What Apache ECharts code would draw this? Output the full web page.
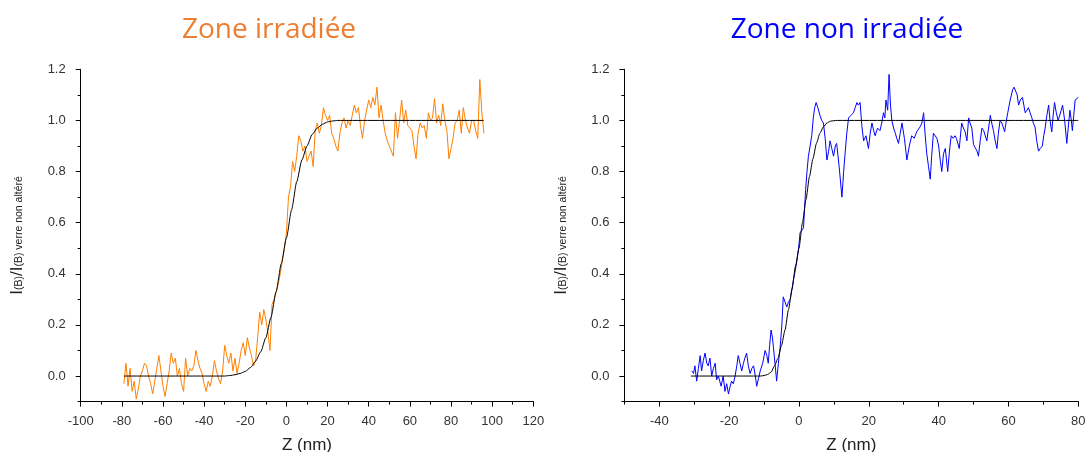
<!DOCTYPE html>
<html>
<head>
<meta charset="utf-8">
<script src="https://cdn.jsdelivr.net/npm/echarts@6/dist/echarts.min.js"></script>
<style>
html,body{margin:0;padding:0;background:#fff;}
#c{width:1085px;height:452px;}
</style>
</head>
<body>
<div id="c"></div>
<script>
// ---------- Data ----------
var leftTitle = 'Zone irradiée';
var rightTitle = 'Zone non irradiée';
var xName = 'Z (nm)';

// Left chart (Zone irradiée) measured profile
var leftZ = [];
for (var z = -79; z <= 96; z++) leftZ.push(z);
var leftI = [
 -0.03, 0.05, -0.04, 0.03, -0.06, -0.02, -0.09, -0.05, 0.00, 0.02,
  0.05, 0.04, 0.00, -0.03, -0.07, -0.02, 0.03, 0.08, 0.02, -0.04,
 -0.08, -0.03, 0.02, 0.09, 0.05, 0.07, 0.00, 0.03, -0.03, -0.06,
  0.07, 0.00, 0.03, 0.02, 0.04, 0.10, 0.06, 0.03, 0.01, -0.03,
 -0.06, -0.02, -0.04, 0.00, 0.06, 0.02, -0.01, -0.03, 0.02, 0.12,
  0.08, 0.05, 0.09, 0.02, 0.07, 0.01, 0.05, 0.10, 0.13, 0.08,
  0.15, 0.11, 0.08, 0.04, 0.06, 0.15, 0.25, 0.20, 0.26, 0.22,
  0.17, 0.10, 0.28, 0.30, 0.33, 0.36, 0.40, 0.45, 0.50, 0.56,
  0.70, 0.74, 0.84, 0.80, 0.86, 0.94, 0.92, 0.88, 0.90, 0.84,
  0.86, 0.88, 0.82, 0.96, 0.99, 0.95, 0.98, 1.05, 1.02, 1.00,
  1.02, 0.95, 0.93, 0.90, 0.88, 0.95, 0.99, 1.01, 0.97, 1.00,
  0.98, 1.02, 1.06, 1.03, 1.05, 0.98, 0.93, 1.00, 1.04, 1.08,
  1.05, 1.09, 1.06, 1.13, 1.01, 1.06, 1.00, 0.95, 0.92, 0.90,
  0.88, 0.86, 1.03, 0.93, 1.00, 1.08, 0.99, 1.04, 0.98, 0.97,
  0.96, 0.90, 0.85, 0.95, 0.99, 0.97, 0.98, 0.93, 1.03, 1.00,
  1.01, 1.085, 0.99, 1.02, 0.98, 1.065, 1.00, 0.96, 0.85, 0.89,
  0.93, 0.99, 1.00, 1.04, 0.95, 1.05, 1.00, 0.97, 0.95, 1.00,
  1.00, 0.96, 0.93, 1.16, 1.03, 0.95
];
// Left chart fitted curve
var leftFitZ = [-79, -30, -27.5, -25, -22.5, -20, -17.5, -15, -12.5, -10, -7.5, -5, -2.5, 0, 2.5, 5, 7.5, 10, 12.5, 15, 17.5, 20, 22.5, 25, 96];
var leftFitI = [0, 0, 0.002, 0.005, 0.01, 0.018, 0.033, 0.058, 0.095, 0.15, 0.23, 0.33, 0.44, 0.54, 0.65, 0.76, 0.845, 0.9, 0.945, 0.97, 0.985, 0.994, 0.998, 1, 1];

// Right chart (Zone non irradiée) measured profile
var rightZ = [
 -30.7, -30.2, -29.8, -29.3, -28.8, -28.3, -27.9, -27.4, -26.9, -26.4,
 -26.0, -25.5, -25.0, -24.5, -24.0, -23.6, -23.1, -22.7, -22.3, -21.7,
 -21.2, -20.7, -20.2, -19.7, -19.3, -18.8, -18.3, -17.8, -17.4, -16.9,
 -16.4, -15.9, -15.5, -15.0, -14.5, -14.0, -13.5, -13.0, -12.5, -12.1,
 -11.6, -11.1, -10.4, -9.7, -9.2, -8.8, -8.4, -8.0, -7.6, -7.3,
 -6.8, -6.4, -5.9, -5.4, -4.9, -4.5, -4.0, -3.5, -3.0, -2.5,
 -2.0, -1.6, -1.1, -0.6, -0.1, 0.3, 0.8, 1.3, 1.9, 2.3,
 2.7, 3.2, 3.65, 4.1, 4.5, 4.9, 5.4, 6.0, 6.5, 7.0,
 7.5, 8.0, 8.5, 8.9, 9.4, 9.9, 10.4, 10.8, 11.5, 12.3,
 12.8, 13.2, 13.7, 14.2, 14.9, 15.6, 16.1, 16.6, 17.0, 17.5,
 18.0, 18.5, 19.2, 19.9, 20.4, 20.9, 21.4, 21.8, 22.5, 23.2,
 23.7, 24.2, 24.6, 24.9, 25.4, 25.8, 26.2, 26.6, 27.1, 27.6,
 28.0, 28.5, 29.0, 29.5, 30.2, 30.9, 31.6, 32.3, 33.0, 33.7,
 34.2, 34.7, 35.2, 35.7, 36.1, 36.6, 37.1, 37.6, 38.0, 38.5,
 39.0, 39.5, 40.0, 40.5, 40.9, 41.4, 41.9, 42.6, 43.1, 43.6,
 44.2, 44.7, 45.1, 45.5, 45.9, 46.6, 47.1, 47.6, 48.1, 48.6,
 49.0, 49.5, 50.0, 50.5, 51.0, 51.4, 51.9, 52.4, 52.9, 53.3,
 53.8, 54.3, 54.8, 55.2, 55.7, 56.2, 56.7, 57.1, 57.6, 58.1,
 58.5, 58.9, 59.4, 59.8, 60.5, 61.2, 61.6, 62.1, 62.5, 62.9,
 63.4, 64.0, 64.4, 64.8, 65.3, 65.7, 66.2, 66.7, 67.1, 67.6,
 68.1, 68.6, 69.1, 69.7, 70.1, 70.5, 71.0, 71.5, 71.9, 72.4,
 72.8, 73.2, 73.7, 74.2, 74.8, 75.5, 76.1, 76.7, 77.1, 77.6,
 78.0, 78.3, 78.7, 79.1, 79.6, 80.0
];
var rightI = [
 0.02, 0.01, 0.04, -0.02, 0.03, 0.08, 0.02, 0.06, 0.09, 0.05,
 0.04, 0.07, 0.00, 0.03, 0.05, -0.015, 0.00, -0.02, -0.04, 0.00,
 -0.06, -0.03, -0.07, -0.04, -0.02, -0.03, 0.00, 0.04, 0.08, 0.05,
 0.02, 0.05, 0.07, 0.09, 0.04, 0.01, 0.03, 0.04, 0.00, -0.04,
 -0.01, 0.02, 0.05, 0.10, 0.08, 0.05, 0.12, 0.18, 0.15, 0.11,
 0.04, -0.02, 0.05, 0.11, 0.20, 0.31, 0.29, 0.27, 0.29, 0.30,
 0.34, 0.375, 0.41, 0.45, 0.50, 0.56, 0.57, 0.58, 0.73, 0.80,
 0.86, 0.90, 0.94, 1.01, 1.05, 1.07, 1.05, 1.02, 1.00, 0.99,
 0.93, 0.845, 0.88, 0.92, 0.89, 0.86, 0.90, 0.91, 0.82, 0.70,
 0.80, 0.87, 0.95, 1.01, 1.02, 1.03, 1.05, 1.07, 1.06, 1.07,
 0.98, 0.92, 0.94, 0.89, 0.95, 0.99, 0.96, 0.94, 0.97, 0.96,
 0.99, 1.03, 1.01, 1.08, 1.04, 1.18, 1.06, 1.00, 0.97, 0.95,
 0.93, 0.91, 0.95, 0.99, 0.93, 0.845, 0.90, 0.94, 0.93, 0.955,
 0.96, 0.975, 0.99, 1.03, 0.95, 0.87, 0.82, 0.77, 0.86, 0.95,
 0.955, 0.93, 0.90, 0.84, 0.80, 0.87, 0.89, 0.80, 0.88, 0.94,
 0.93, 0.94, 0.93, 0.935, 0.89, 0.99, 0.97, 0.955, 0.92, 1.01,
 0.99, 0.97, 0.905, 0.90, 0.88, 0.86, 0.92, 0.97, 0.96, 0.965,
 0.92, 0.97, 1.02, 0.99, 0.96, 0.92, 0.89, 0.95, 1.00, 0.99,
 0.99, 0.956, 1.00, 1.03, 1.08, 1.12, 1.13, 1.13, 1.10, 1.06,
 1.08, 1.09, 1.06, 1.03, 1.04, 1.05, 1.03, 1.01, 0.99, 0.975,
 0.92, 0.88, 0.89, 0.90, 0.94, 0.97, 1.02, 1.06, 1.00, 0.955,
 1.02, 1.07, 1.03, 1.00, 1.025, 1.06, 1.00, 0.91, 0.97, 1.04,
 1.00, 0.96, 1.02, 1.08, 1.085, 1.09
];
// Right chart fitted curve
var rightFitZ = [-31, -11, -10, -9, -8, -7, -6, -5, -4, -3, -2, -1, 0, 1, 2, 3, 4, 5, 6, 7, 8, 9, 10, 11, 80];
var rightFitI = [0, 0, 0.002, 0.006, 0.015, 0.04, 0.07, 0.12, 0.18, 0.26, 0.34, 0.43, 0.5, 0.6, 0.69, 0.78, 0.85, 0.91, 0.95, 0.975, 0.99, 0.997, 0.999, 1, 1];

// Tick labels
var yTickLabels = [0.0, 0.2, 0.4, 0.6, 0.8, 1.0, 1.2];
var yMinorTicks = [-0.1, 0.1, 0.3, 0.5, 0.7, 0.9, 1.1];
var rightXTickLabels = [-40, -20, 0, 20, 40, 60, 80];
var rightXMinorTicks = [-50, -30, -10, 10, 30, 50, 70];

// ---------- Chart ----------
function pairs(xs, ys) { return xs.map(function (x, i) { return [x, ys[i]]; }); }

var labelFont = 'Liberation Sans';
var axisCol = '#000';
var labelStyle = { color: '#333', fontFamily: labelFont, fontSize: 13 };

function yName() {
  return {
    name: '{b|I}{s|(B)}{b|/I}{s|(B) verre non altéré}',
    nameLocation: 'middle',
    nameGap: 56,
    nameRotate: 90,
    nameTextStyle: {
      rich: {
        b: { fontSize: 17, fontFamily: labelFont, color: '#222', lineHeight: 16, verticalAlign: 'top' },
        s: { fontSize: 10.5, fontFamily: labelFont, color: '#222', lineHeight: 10, padding: [9, 0, 0, 0], verticalAlign: 'bottom' }
      }
    }
  };
}

function mainY(grid) {
  var o = yName();
  return Object.assign(o, {
    type: 'value', gridIndex: grid, min: -0.1, max: 1.2, position: 'left',
    splitLine: { show: false },
    axisLine: { show: true, onZero: false, lineStyle: { color: axisCol, width: 1 } },
    axisTick: { show: true, length: 5, customValues: yTickLabels, lineStyle: { color: axisCol } },
    axisLabel: Object.assign({ customValues: yTickLabels, margin: 15, formatter: function (v) { return Number(v).toFixed(1); } }, labelStyle)
  });
}
function minorY(grid) {
  return {
    type: 'value', gridIndex: grid, min: -0.1, max: 1.2, position: 'left', offset: 0,
    splitLine: { show: false },
    axisLine: { show: false, onZero: false },
    axisTick: { show: true, length: 3, customValues: yMinorTicks, lineStyle: { color: axisCol } },
    axisLabel: { show: false }
  };
}

var option = {
  animation: false,
  backgroundColor: '#fff',
  title: [
    { text: leftTitle, left: 264, top: 11, textAlign: 'center',
      textStyle: { color: '#ED7D31', fontSize: 28, fontFamily: 'Open Sans', fontWeight: 'normal' } },
    { text: rightTitle, left: 842, top: 11, textAlign: 'center',
      textStyle: { color: '#0000FF', fontSize: 28, fontFamily: 'Open Sans', fontWeight: 'normal' } }
  ],
  grid: [
    { left: 80.7, top: 69.3, width: 452.6, height: 332.3, outerBoundsMode: 'none', containLabel: false },
    { left: 624.4, top: 69.3, width: 453.9, height: 332.3, outerBoundsMode: 'none', containLabel: false }
  ],
  xAxis: [
    { type: 'value', gridIndex: 0, min: -100, max: 120, interval: 20, position: 'bottom',
      name: xName, nameLocation: 'middle', nameGap: 35,
      nameTextStyle: { fontFamily: labelFont, fontSize: 17, color: '#222' },
      splitLine: { show: false },
      axisLine: { onZero: false, lineStyle: { color: axisCol, width: 1 } },
      axisTick: { length: 5, lineStyle: { color: axisCol } },
      minorTick: { show: true, splitNumber: 2, length: 3, lineStyle: { color: axisCol } },
      axisLabel: Object.assign({ margin: 13 }, labelStyle) },
    { type: 'value', gridIndex: 1, min: -50, max: 80, position: 'bottom',
      name: xName, nameLocation: 'middle', nameGap: 35,
      nameTextStyle: { fontFamily: labelFont, fontSize: 17, color: '#222' },
      splitLine: { show: false },
      axisLine: { onZero: false, lineStyle: { color: axisCol, width: 1 } },
      axisTick: { length: 5, customValues: rightXTickLabels, lineStyle: { color: axisCol } },
      axisLabel: Object.assign({ margin: 13, customValues: rightXTickLabels }, labelStyle) },
    { type: 'value', gridIndex: 1, min: -50, max: 80, position: 'bottom', offset: 0,
      splitLine: { show: false },
      axisLine: { show: false, onZero: false },
      axisTick: { length: 3, customValues: rightXMinorTicks, lineStyle: { color: axisCol } },
      axisLabel: { show: false } }
  ],
  yAxis: [mainY(0), minorY(0), mainY(1), minorY(1)],
  series: [
    { type: 'line', xAxisIndex: 0, yAxisIndex: 0, data: pairs(leftZ, leftI), showSymbol: false,
      lineStyle: { color: '#FF8000', width: 1 }, z: 2 },
    { type: 'line', xAxisIndex: 0, yAxisIndex: 0, data: pairs(leftFitZ, leftFitI), showSymbol: false,
      smooth: 0.2, smoothMonotone: 'x', lineStyle: { color: '#000', width: 1 }, z: 3 },
    { type: 'line', xAxisIndex: 1, yAxisIndex: 2, data: pairs(rightZ, rightI), showSymbol: false,
      lineStyle: { color: '#0000FF', width: 1 }, z: 2 },
    { type: 'line', xAxisIndex: 1, yAxisIndex: 2, data: pairs(rightFitZ, rightFitI), showSymbol: false,
      smooth: 0.2, smoothMonotone: 'x', lineStyle: { color: '#000', width: 1 }, z: 3 }
  ]
};

var chart = echarts.init(document.getElementById('c'), null, { renderer: 'canvas' });
chart.setOption(option);
</script>
</body>
</html>
